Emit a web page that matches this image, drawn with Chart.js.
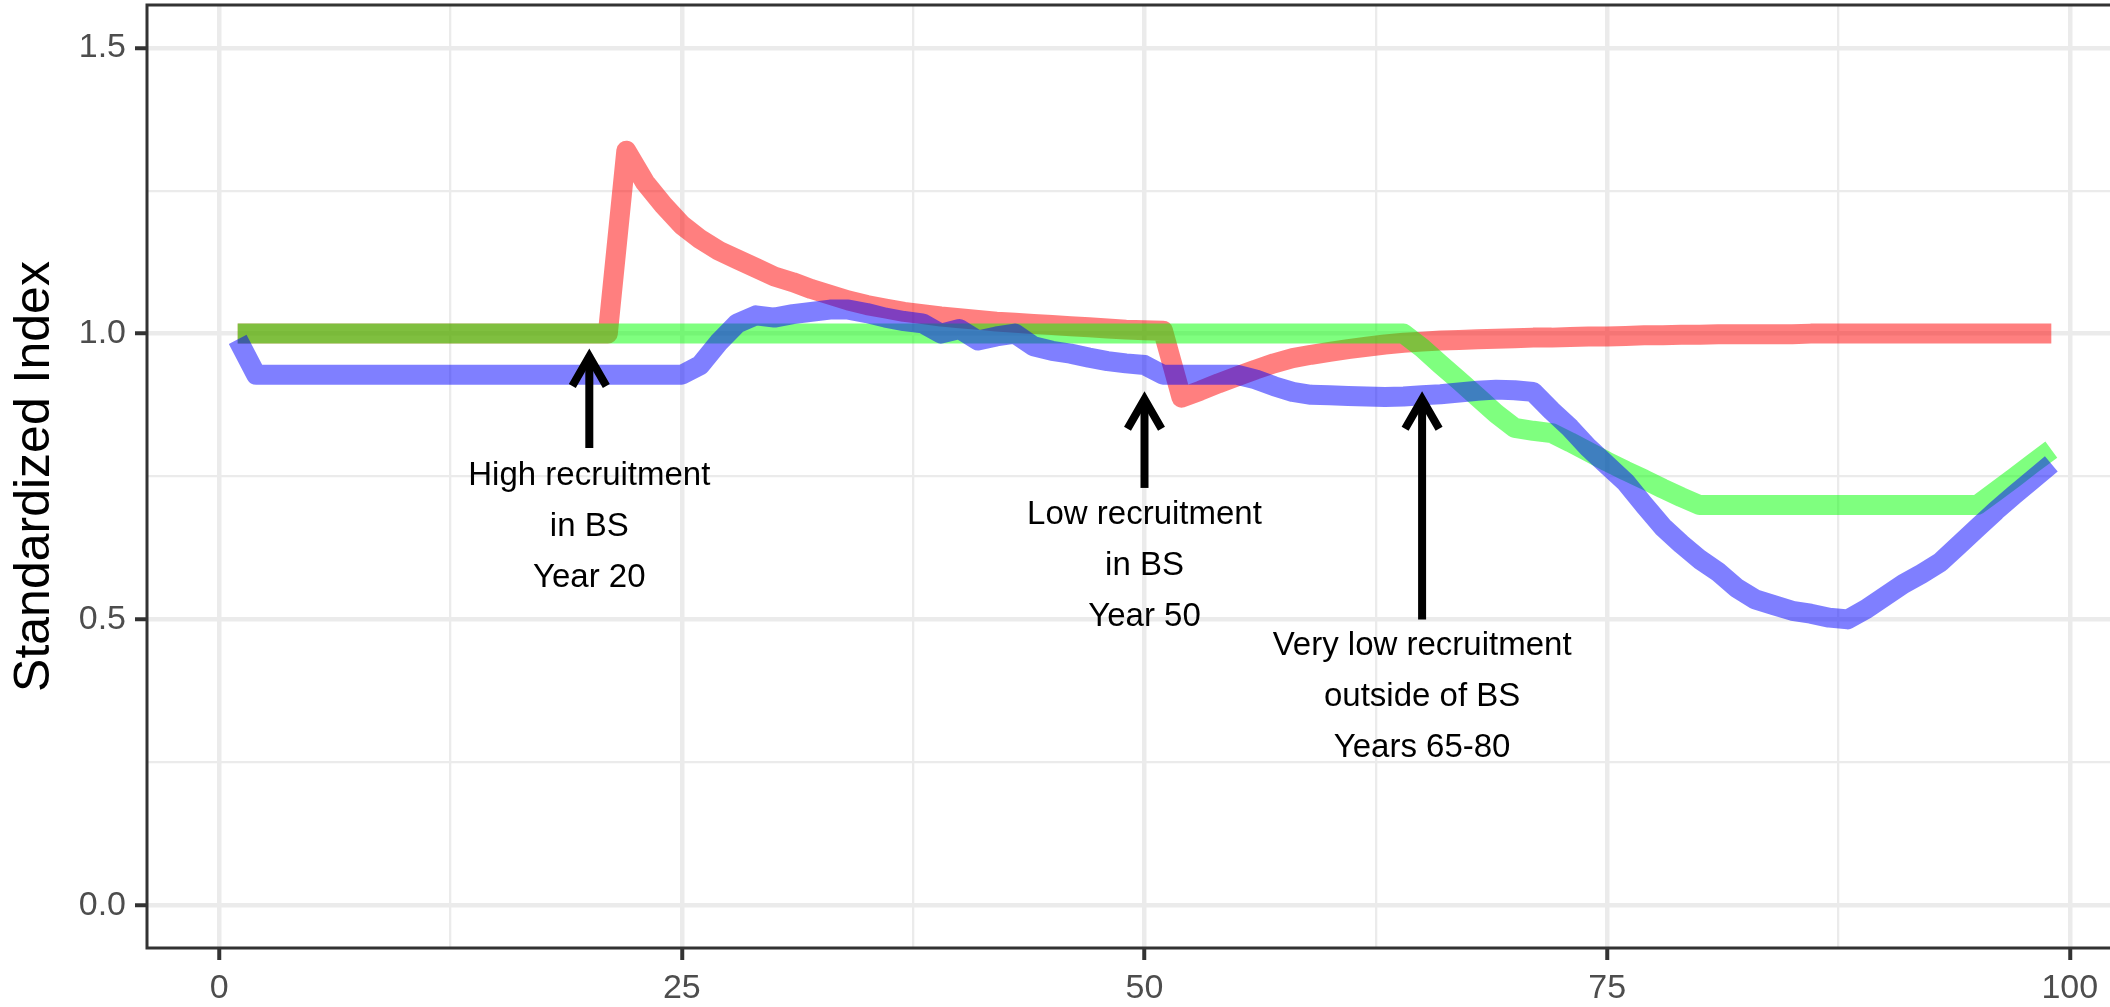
<!DOCTYPE html>
<html><head><meta charset="utf-8">
<script src="https://cdn.jsdelivr.net/npm/chart.js@4/dist/chart.umd.min.js"></script>
<style>
html,body{margin:0;padding:0;overflow:hidden;background:#fff;width:2110px;height:1007px}
#wrap{position:relative;width:2142px;height:1007px}
canvas{display:block}
</style></head><body>
<div id="wrap"><canvas id="c" width="2142" height="1007"></canvas></div>
<script>
const years = [1,2,3,4,5,6,7,8,9,10,11,12,13,14,15,16,17,18,19,20,21,22,23,24,25,26,27,28,29,30,31,32,33,34,35,36,37,38,39,40,41,42,43,44,45,46,47,48,49,50,51,52,53,54,55,56,57,58,59,60,61,62,63,64,65,66,67,68,69,70,71,72,73,74,75,76,77,78,79,80,81,82,83,84,85,86,87,88,89,90,91,92,93,94,95,96,97,98,99];

const redValues = [1,1,1,1,1,1,1,1,1,1,1,1,1,1,1,1,1,1,1,1,1,
  1.32,1.265,1.225,1.19,1.165,1.145,1.13,1.115,1.10,1.09,1.078,1.068,1.058,1.05,1.044,1.038,1.034,1.03,1.027,1.024,1.021,1.019,1.017,1.015,1.013,1.011,1.009,1.007,1.006,1.005,
  0.888,0.90,0.913,0.925,0.937,0.948,0.957,0.963,0.968,0.973,0.977,0.981,0.984,0.986,0.988,0.989,0.99,0.991,0.992,0.993,0.993,0.994,0.995,0.995,0.996,0.997,0.997,0.998,0.998,
  0.999,0.999,0.999,0.999,0.999,1,1,1,1,1,1,1,1,1,1,1,1,1,1];

const greenValues = [1,1,1,1,1,1,1,1,1,1,1,1,1,1,1,1,1,1,1,1,1,1,1,1,1,1,1,1,1,1,1,1,1,1,1,1,1,1,1,1,1,1,1,1,1,1,1,1,1,1,1,1,1,1,1,1,1,1,1,1,1,1,1,1,
  0.975,0.946,0.918,0.889,0.86,0.835,0.83,0.826,0.81,0.793,0.776,0.76,0.745,0.729,0.714,0.70,
  0.70,0.70,0.70,0.70,0.70,0.70,0.70,0.70,0.70,0.70,0.70,0.70,0.70,0.70,0.70,
  0.724,0.748,0.773,0.797];

const blueValues = [0.99,
  0.928,0.928,0.928,0.928,0.928,0.928,0.928,0.928,0.928,0.928,0.928,0.928,0.928,0.928,0.928,0.928,0.928,0.928,0.928,0.928,0.928,0.928,0.928,0.928,
  0.945,0.985,1.018,1.032,1.028,1.034,1.038,1.042,1.042,1.036,1.028,1.022,1.018,1.0,1.008,0.988,0.995,1.0,0.978,0.97,0.965,0.958,0.952,0.948,0.945,
  0.928,0.928,0.928,0.928,0.928,0.92,0.908,0.898,0.893,0.892,0.891,0.89,0.889,0.89,0.892,0.894,0.897,0.9,0.902,0.901,0.898,
  0.865,0.835,0.8,0.77,0.74,0.7,0.662,0.632,0.605,0.583,0.555,0.535,0.525,0.515,0.51,0.503,0.5,
  0.518,0.54,0.562,0.58,0.6,0.63,0.66,0.69,0.718,0.745,0.772];

const xMajorTicks = [0, 25, 50, 75, 100];
const xMinorTicks = [12.5, 37.5, 62.5, 87.5];
const xTickLabels = ["0", "25", "50", "75", "100"];
const yMajorTicks = [0, 0.5, 1.0, 1.5];
const yMinorTicks = [0.25, 0.75, 1.25];
const yTickLabels = ["0.0", "0.5", "1.0", "1.5"];
const yAxisTitle = "Standardized Index";

const annotationYears = [20, 50, 65];
const arrowTips = [0.96, 0.885, 0.885];
const arrowTails = [0.80, 0.73, 0.50];
const labelCenters = [0.662, 0.594, 0.365];
const labelTexts = [
  ["High recruitment", "in BS", "Year 20"],
  ["Low recruitment", "in BS", "Year 50"],
  ["Very low recruitment", "outside of BS", "Years 65-80"]
];

const FONT = '"Liberation Sans", Arial, Helvetica, sans-serif';
const toPts = vals => years.map((x, i) => ({x: x, y: vals[i]}));
const near = (arr, v) => arr.findIndex(a => Math.abs(a - v) < 1e-6);

const panelPlugin = {
  id: 'panel',
  afterDatasetsDraw(chart) {
    const ctx = chart.ctx, xs = chart.scales.x, ys = chart.scales.y;
    ctx.save();
    ctx.strokeStyle = '#000';
    ctx.lineWidth = 8;
    for (let i = 0; i < annotationYears.length; i++) {
      const px = xs.getPixelForValue(annotationYears[i]);
      const tip = ys.getPixelForValue(arrowTips[i]);
      const tail = ys.getPixelForValue(arrowTails[i]);
      ctx.lineCap = 'butt';
      ctx.lineJoin = 'miter';
      ctx.beginPath();
      ctx.moveTo(px, tail);
      ctx.lineTo(px, tip + 4);
      ctx.stroke();
      const L = 34, ang = Math.PI / 6;
      ctx.beginPath();
      ctx.moveTo(px - L * Math.sin(ang), tip + L * Math.cos(ang));
      ctx.lineTo(px, tip);
      ctx.lineTo(px + L * Math.sin(ang), tip + L * Math.cos(ang));
      ctx.stroke();
    }
    ctx.fillStyle = '#000';
    ctx.font = '33px ' + FONT;
    ctx.textAlign = 'center';
    ctx.textBaseline = 'middle';
    for (let i = 0; i < annotationYears.length; i++) {
      const px = xs.getPixelForValue(annotationYears[i]);
      const cy = ys.getPixelForValue(labelCenters[i]);
      const lines = labelTexts[i];
      const mid = (lines.length - 1) / 2;
      lines.forEach((t, k) => ctx.fillText(t, px, cy + (k - mid) * 51));
    }
    ctx.restore();
  },
  afterDraw(chart) {
    const ctx = chart.ctx, a = chart.chartArea;
    ctx.save();
    ctx.strokeStyle = '#333333';
    ctx.lineWidth = 3;
    ctx.strokeRect(a.left, a.top, a.right - a.left, a.bottom - a.top);
    ctx.restore();
  }
};

const mk = (label, vals, color, order) => ({
  label: label, data: toPts(vals), borderColor: color, borderWidth: 20,
  pointRadius: 0, tension: 0, fill: false, order: order,
  borderJoinStyle: 'round', borderCapStyle: 'butt'
});

new Chart(document.getElementById('c'), {
  type: 'line',
  data: {
    datasets: [
      mk('Red', redValues, 'rgba(255,0,0,0.5)', 3),
      mk('Green', greenValues, 'rgba(0,255,0,0.5)', 2),
      mk('Blue', blueValues, 'rgba(0,0,255,0.5)', 1)
    ]
  },
  options: {
    responsive: false,
    animation: false,
    devicePixelRatio: 1,
    layout: {padding: {top: 5, left: 0, right: 0, bottom: 0}},
    plugins: {legend: {display: false}, tooltip: {enabled: false}},
    scales: {
      x: {
        type: 'linear', min: -3.9, max: 103.9,
        afterFit: s => { s.height = 59; s.paddingLeft = 0; s.paddingRight = 0; },
        afterBuildTicks: s => { s.ticks = xMajorTicks.concat(xMinorTicks).sort((a, b) => a - b).map(v => ({value: v})); },
        border: {display: false},
        grid: {
          color: '#EBEBEB',
          lineWidth: c => near(xMajorTicks, c.tick.value) >= 0 ? 4.5 : 2.3,
          drawTicks: true, tickLength: 12, tickWidth: 4,
          tickColor: c => near(xMajorTicks, c.tick.value) >= 0 ? '#333333' : 'rgba(0,0,0,0)'
        },
        ticks: {
          autoSkip: false, maxRotation: 0, padding: 8, color: '#4D4D4D',
          font: {family: FONT, size: 34},
          callback: v => { const i = near(xMajorTicks, v); return i >= 0 ? xTickLabels[i] : ''; }
        }
      },
      y: {
        type: 'linear', min: -0.075, max: 1.575,
        afterFit: s => { s.width = 147; s.paddingTop = 0; s.paddingBottom = 0; },
        afterBuildTicks: s => { s.ticks = yMajorTicks.concat(yMinorTicks).sort((a, b) => a - b).map(v => ({value: v})); },
        border: {display: false},
        grid: {
          color: '#EBEBEB',
          lineWidth: c => near(yMajorTicks, c.tick.value) >= 0 ? 4.5 : 2.3,
          drawTicks: true, tickLength: 12, tickWidth: 4,
          tickColor: c => near(yMajorTicks, c.tick.value) >= 0 ? '#333333' : 'rgba(0,0,0,0)'
        },
        ticks: {
          autoSkip: false, padding: 9, color: '#4D4D4D',
          font: {family: FONT, size: 34},
          callback: v => { const i = near(yMajorTicks, v); return i >= 0 ? yTickLabels[i] : ''; }
        },
        title: {
          display: true, text: yAxisTitle, color: '#000',
          font: {family: FONT, size: 50, lineHeight: 1.2},
          padding: {top: 5, bottom: 0}
        }
      }
    }
  },
  plugins: [panelPlugin]
});
</script>
</body></html>
